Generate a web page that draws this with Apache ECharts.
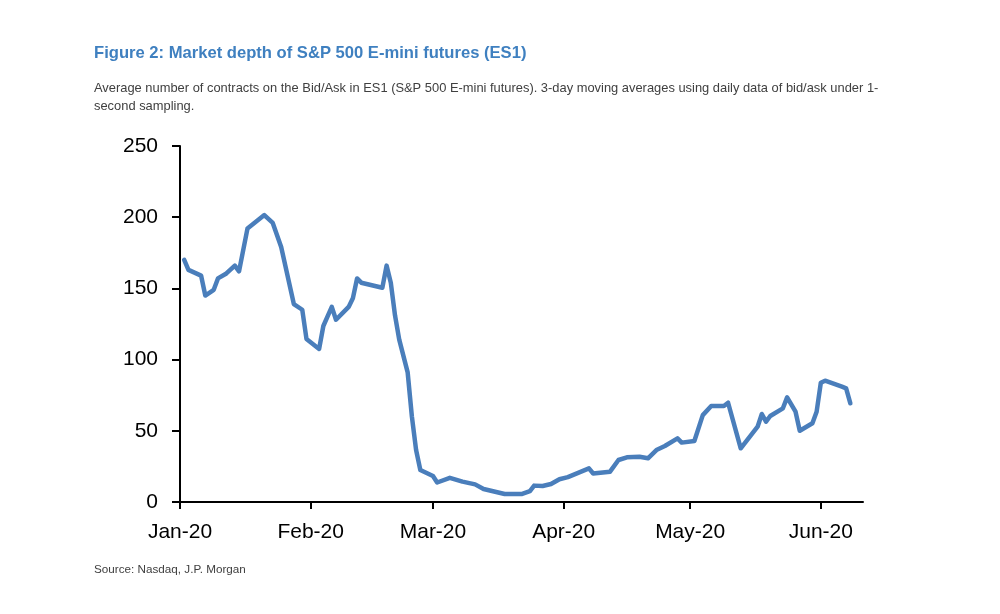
<!DOCTYPE html>
<html>
<head>
<meta charset="utf-8">
<script src="https://cdn.jsdelivr.net/npm/echarts@6/dist/echarts.min.js"></script>
<style>
html,body{margin:0;padding:0;background:#fff;}
#chart{width:1000px;height:614px;}
</style>
</head>
<body>
<div id="chart"></div>
<script>
// Dates of the line's vertices (3-day MA of bid/ask depth, ES1)
const dates = [
  '2020-01-02','2020-01-03','2020-01-06','2020-01-07','2020-01-09','2020-01-10','2020-01-12','2020-01-14',
  '2020-01-15','2020-01-17','2020-01-21','2020-01-23','2020-01-25','2020-01-28','2020-01-30','2020-01-31',
  '2020-02-03','2020-02-04','2020-02-06','2020-02-07','2020-02-10','2020-02-11','2020-02-12','2020-02-13',
  '2020-02-18','2020-02-19','2020-02-20','2020-02-21','2020-02-22','2020-02-24','2020-02-25','2020-02-26',
  '2020-02-27','2020-03-01','2020-03-02','2020-03-05','2020-03-08','2020-03-11','2020-03-13','2020-03-15',
  '2020-03-18','2020-03-22','2020-03-24','2020-03-25','2020-03-27','2020-03-29','2020-03-31','2020-04-02',
  '2020-04-07','2020-04-08','2020-04-12','2020-04-14','2020-04-16','2020-04-19','2020-04-21','2020-04-23',
  '2020-04-25','2020-04-28','2020-04-29','2020-05-02','2020-05-04','2020-05-06','2020-05-09','2020-05-10',
  '2020-05-13','2020-05-17','2020-05-18','2020-05-19','2020-05-20','2020-05-23','2020-05-24','2020-05-26',
  '2020-05-27','2020-05-30','2020-05-31','2020-06-01','2020-06-02','2020-06-06','2020-06-07','2020-06-08'
];
const depth = [
  170,163,159,145,149,157,160.5,166,
  162,192,201.5,196,179,139,135,114.5,
  107.5,123.6,137,128,137,143,157,154,
  150.5,166,154,131,114,91,60,36.5,
  22.5,18.3,13.7,17,14.3,12.4,9.1,7.7,
  5.6,5.6,7.7,11.5,11.2,12.6,16,17.5,
  23.6,20,21.3,29.5,31.4,31.8,30.7,36.5,
  39.3,44.7,41.7,42.8,61,67.4,67.4,69.7,
  37.7,52.9,61.8,56.4,60.4,65.8,73.5,63.4,
  50,55.3,63.4,83.8,85.2,81,79.8,69.3
];
const yTicks = [0, 50, 100, 150, 200, 250];
const monthNames = ['Jan','Feb','Mar','Apr','May','Jun','Jul','Aug','Sep','Oct','Nov','Dec'];

const seriesData = dates.map((d, i) => [d, depth[i]]);

const chart = echarts.init(document.getElementById('chart'), null, {renderer: 'canvas'});
const axisFont = "'Liberation Sans Narrow', 'Liberation Sans', Arial, sans-serif";
const textFont = "'Liberation Sans', Arial, sans-serif";
chart.setOption({
  backgroundColor: '#ffffff',
  animation: false,
  title: [
    {
      text: 'Figure 2: Market depth of S&P 500 E-mini futures (ES1)',
      left: 89, top: 40,
      textStyle: {color: '#3f80c0', fontSize: 16.6, fontWeight: 'bold', fontFamily: textFont}
    },
    {
      text: 'Average number of contracts on the Bid/Ask in ES1 (S&P 500 E-mini futures). 3-day moving averages using daily data of bid/ask under 1-\nsecond sampling.',
      left: 89, top: 74,
      textStyle: {color: '#404040', fontSize: 12.9, fontWeight: 'normal', lineHeight: 18.5, fontFamily: textFont}
    },
    {
      text: 'Source: Nasdaq, J.P. Morgan',
      left: 89, top: 559,
      textStyle: {color: '#404040', fontSize: 11.7, fontWeight: 'normal', fontFamily: textFont}
    }
  ],
  grid: {left: 180, right: 137, top: 146, bottom: 112, containLabel: false},
  xAxis: {
    type: 'time',
    min: '2020-01-01',
    max: '2020-06-11',
    minInterval: 28 * 86400000,
    maxInterval: 31 * 86400000,
    axisLine: {show: true, lineStyle: {color: '#000', width: 2}},
    axisTick: {show: true, length: 7, lineStyle: {color: '#000', width: 2}},
    axisLabel: {
      color: '#000', fontSize: 21, fontFamily: axisFont, margin: 20,
      showMinLabel: true, showMaxLabel: false,
      formatter: function (v) {
        const d = new Date(v);
        return monthNames[d.getMonth()] + '-' + String(d.getFullYear()).slice(2);
      }
    },
    splitLine: {show: false}
  },
  yAxis: {
    type: 'value',
    min: yTicks[0],
    max: yTicks[yTicks.length - 1],
    interval: 50,
    axisLine: {show: true, lineStyle: {color: '#000', width: 2}},
    axisTick: {show: true, length: 8, lineStyle: {color: '#000', width: 2}},
    axisLabel: {color: '#000', fontSize: 21, fontFamily: axisFont, margin: 22},
    splitLine: {show: false}
  },
  series: [{
    type: 'line',
    data: seriesData,
    showSymbol: false,
    symbol: 'none',
    lineStyle: {color: '#4a7ebb', width: 4.5, join: 'round', cap: 'round'},
    itemStyle: {color: '#4a7ebb'}
  }]
});
</script>
</body>
</html>
